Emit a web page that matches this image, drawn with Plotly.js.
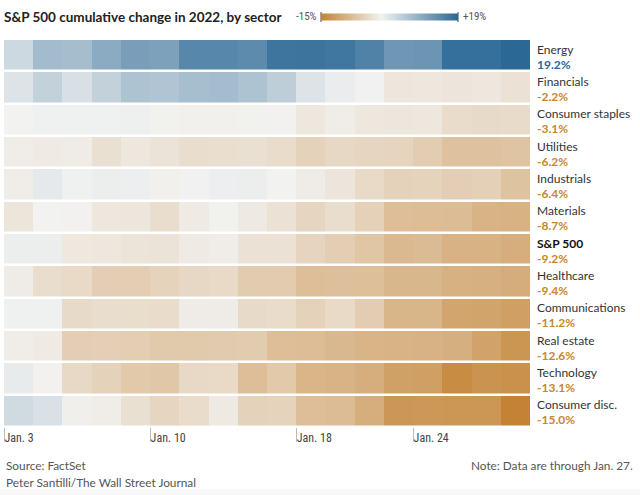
<!DOCTYPE html>
<html>
<head>
<meta charset="utf-8">
<script src="https://cdn.plot.ly/plotly-3.0.1.min.js"></script>
<style>
  html, body { margin: 0; padding: 0; background: #fff; }
  #chart { width: 640px; height: 495px; }
</style>
</head>
<body>
<div id="chart"></div>
<script>
// ---- Data ----
const days = ["Jan. 3","Jan. 4","Jan. 5","Jan. 6","Jan. 7","Jan. 10","Jan. 11","Jan. 12","Jan. 13","Jan. 14","Jan. 18","Jan. 19","Jan. 20","Jan. 21","Jan. 24","Jan. 25","Jan. 26","Jan. 27"];
const tickDays = ["Jan. 3","Jan. 10","Jan. 18","Jan. 24"];
const sectors = ["Energy","Financials","Consumer staples","Utilities","Industrials","Materials","S&P 500","Healthcare","Communications","Real estate","Technology","Consumer disc."];

const energy        = [3.5, 7.5, 7.3, 9.8, 11.5, 11.2, 14.8, 14.8, 14.2, 17.2, 17.3, 17.0, 15.5, 12.5, 12.8, 18.0, 18.0, 19.2];
const financials    = [2.0, 4.5, 2.5, 4.5, 6.5, 6.3, 7.2, 7.4, 6.5, 5.0, 2.0, 0.8, 0.1, -1.6, -1.5, -1.7, -1.5, -2.2];
const staples       = [0.0, 0.3, 0.3, 0.3, 0.4, -0.2, -0.3, -0.3, -0.2, -0.1, -1.5, -0.7, -1.5, -1.6, -1.5, -3.0, -3.2, -3.1];
const utilities     = [-0.8, -1.0, -0.9, -2.5, -1.5, -2.0, -2.8, -2.7, -2.5, -3.0, -4.3, -3.5, -3.8, -4.0, -5.0, -6.5, -6.6, -6.2];
const industrials   = [-0.8, 1.2, 0.3, 0.6, 0.5, -0.3, 0.2, 0.5, 0.6, 0.0, -0.9, -1.7, -3.3, -4.3, -4.2, -4.8, -4.6, -6.4];
const materials     = [-1.8, 0.0, -0.1, -1.5, -1.6, -2.8, -1.0, -0.2, -1.2, -2.3, -3.8, -2.8, -4.5, -7.0, -7.2, -7.3, -8.5, -8.7];
const sp500         = [0.6, 0.6, -1.4, -1.5, -1.9, -2.0, -1.1, -0.8, -2.3, -2.2, -4.0, -4.9, -6.0, -7.7, -7.5, -8.6, -8.7, -9.2];
const healthcare    = [-0.9, -2.8, -3.3, -4.8, -4.9, -4.2, -3.5, -3.3, -5.2, -5.3, -7.0, -6.8, -6.9, -8.0, -8.0, -8.8, -8.9, -9.4];
const communications= [0.3, 0.3, -3.2, -2.8, -2.9, -3.0, -0.9, -0.9, -3.2, -3.0, -4.3, -3.3, -5.0, -8.2, -8.2, -10.4, -10.6, -11.2];
const realEstate    = [-0.7, -1.1, -4.8, -4.7, -4.9, -5.5, -5.5, -5.4, -5.2, -7.0, -7.2, -7.8, -8.4, -8.5, -8.6, -9.0, -10.8, -12.6];
const technology    = [1.0, -0.1, -3.4, -4.3, -5.6, -5.8, -3.4, -3.3, -7.0, -5.6, -8.3, -8.5, -9.2, -11.0, -11.2, -13.8, -12.8, -13.1];
const consumerDisc  = [3.3, 2.3, -0.4, -0.7, -2.5, -3.8, -3.0, -1.2, -4.3, -4.2, -7.0, -7.3, -9.2, -12.3, -12.2, -12.4, -12.5, -15.0];

const rows = [energy, financials, staples, utilities, industrials, materials, sp500, healthcare, communications, realEstate, technology, consumerDisc];
const scaleMin = -15, scaleMax = 19;

// ---- Styling ----
const FONT = 'Lato, "Noto Sans", sans-serif';
const NARROW = '"Liberation Sans Narrow", "Roboto Condensed", "DejaVu Sans Condensed", sans-serif';
const ORANGE = '#c8862f', BLUE = '#2a6698';
const W = 640, H = 495;
const M = {l: 4, r: 110, t: 39, b: 68};
const pw = W - M.l - M.r, ph = H - M.t - M.b;
const px2paperX = p => (p - M.l) / pw;
const px2paperY = p => (H - M.b - p) / ph;

const zeroPos = (0 - scaleMin) / (scaleMax - scaleMin);
const colorscale = [[0, '#c48334'], [zeroPos, '#f2f2f1'], [1, '#2b6896']];

const xIdx = days.map((d, i) => i);
const yIdx = sectors.map((s, i) => i);
const tickvals = tickDays.map(t => days.indexOf(t) - 0.5);

// legend bar geometry (pixels)
const legL = 321, legLen = 137, legY = 17;
const legX = v => legL + legLen * (v - scaleMin) / (scaleMax - scaleMin);

const trace = {
  type: 'heatmap',
  z: rows, x: xIdx, y: yIdx,
  zmin: scaleMin, zmax: scaleMax,
  colorscale: colorscale,
  xgap: 0, ygap: 2.5,
  hoverinfo: 'skip',
  showscale: true,
  colorbar: {
    orientation: 'h',
    xref: 'paper', yref: 'paper',
    x: px2paperX(legL), xanchor: 'left',
    y: px2paperY(legY), yanchor: 'middle',
    len: legLen, lenmode: 'pixels',
    thickness: 7, thicknessmode: 'pixels',
    outlinewidth: 0, showticklabels: false, ticks: '',
    xpad: 0, ypad: 0
  }
};

const annotations = [];
sectors.forEach((s, i) => {
  const last = rows[i][rows[i].length - 1];
  const isSP = s === 'S&P 500';
  annotations.push({
    xref: 'paper', yref: 'y', x: px2paperX(535), y: i, xanchor: 'left', yanchor: 'middle',
    yshift: 6, showarrow: false, text: s,
    font: {family: FONT, size: 12, color: isSP ? '#111' : '#333', weight: isSP ? 700 : 400}
  });
  annotations.push({
    xref: 'paper', yref: 'y', x: px2paperX(535), y: i, xanchor: 'left', yanchor: 'middle',
    yshift: -9, showarrow: false, text: last.toFixed(1) + '%',
    font: {family: FONT, size: 12, color: last >= 0 ? BLUE : ORANGE, weight: 700}
  });
});
// legend labels
annotations.push({xref: 'paper', yref: 'paper', x: px2paperX(legX(scaleMin) - 2), y: px2paperY(legY), xanchor: 'right', yanchor: 'middle', showarrow: false, text: scaleMin + '%', font: {family: NARROW, size: 11, color: '#555'}});
annotations.push({xref: 'paper', yref: 'paper', x: px2paperX(legX(scaleMax) + 3), y: px2paperY(legY), xanchor: 'left', yanchor: 'middle', showarrow: false, text: '+' + scaleMax + '%', font: {family: NARROW, size: 11, color: '#555'}});
// footer
annotations.push({xref: 'paper', yref: 'paper', x: px2paperX(4), y: px2paperY(465), xanchor: 'left', yanchor: 'middle', showarrow: false, text: 'Source: FactSet', font: {family: FONT, size: 11.8, color: '#555'}});
annotations.push({xref: 'paper', yref: 'paper', x: px2paperX(4), y: px2paperY(482), xanchor: 'left', yanchor: 'middle', showarrow: false, text: 'Peter Santilli/The Wall Street Journal', font: {family: FONT, size: 11.8, color: '#555'}});
annotations.push({xref: 'paper', yref: 'paper', x: px2paperX(635), y: px2paperY(465), xanchor: 'right', yanchor: 'middle', showarrow: false, text: 'Note: Data are through Jan. 27.', font: {family: FONT, size: 11.8, color: '#555'}});

const shapes = [scaleMin, 0, scaleMax].map(v => ({
  type: 'line', xref: 'paper', yref: 'paper',
  x0: px2paperX(legX(v)), x1: px2paperX(legX(v)),
  y0: px2paperY(legY - (v === 0 ? 3 : 5)), y1: px2paperY(legY + (v === 0 ? 3 : 5)),
  line: {color: v === 0 ? '#666' : '#444', width: 1}
}));
shapes.unshift({
  type: 'rect', xref: 'paper', yref: 'paper', layer: 'below',
  x0: px2paperX(0), x1: px2paperX(W), y0: px2paperY(489), y1: px2paperY(H),
  fillcolor: '#f8f8f8', line: {width: 0}
});

const layout = {
  width: W, height: H,
  margin: M,
  paper_bgcolor: '#fff', plot_bgcolor: '#fff',
  font: {family: FONT, color: '#333'},
  title: {
    text: 'S&P 500 cumulative change in 2022, by sector',
    xref: 'container', yref: 'container',
    x: 4 / W, xanchor: 'left', y: 1 - 17 / H, yanchor: 'middle',
    font: {family: FONT, size: 13.5, color: '#222', weight: 700}
  },
  xaxis: {
    range: [-0.5, days.length - 0.5],
    tickvals: tickvals, ticktext: tickDays,
    ticks: 'outside', ticklen: 14, tickcolor: '#bbb', tickwidth: 1,
    ticklabelposition: 'outside right',
    tickfont: {family: NARROW, size: 12, color: '#444'},
    showgrid: false, zeroline: false, showline: false, fixedrange: true
  },
  yaxis: {
    range: [sectors.length - 0.5, -0.5],
    showticklabels: false, ticks: '', showgrid: false, zeroline: false, showline: false, fixedrange: true
  },
  annotations: annotations,
  shapes: shapes
};

Plotly.newPlot('chart', [trace], layout, {displayModeBar: false, staticPlot: true});
</script>
</body>
</html>
